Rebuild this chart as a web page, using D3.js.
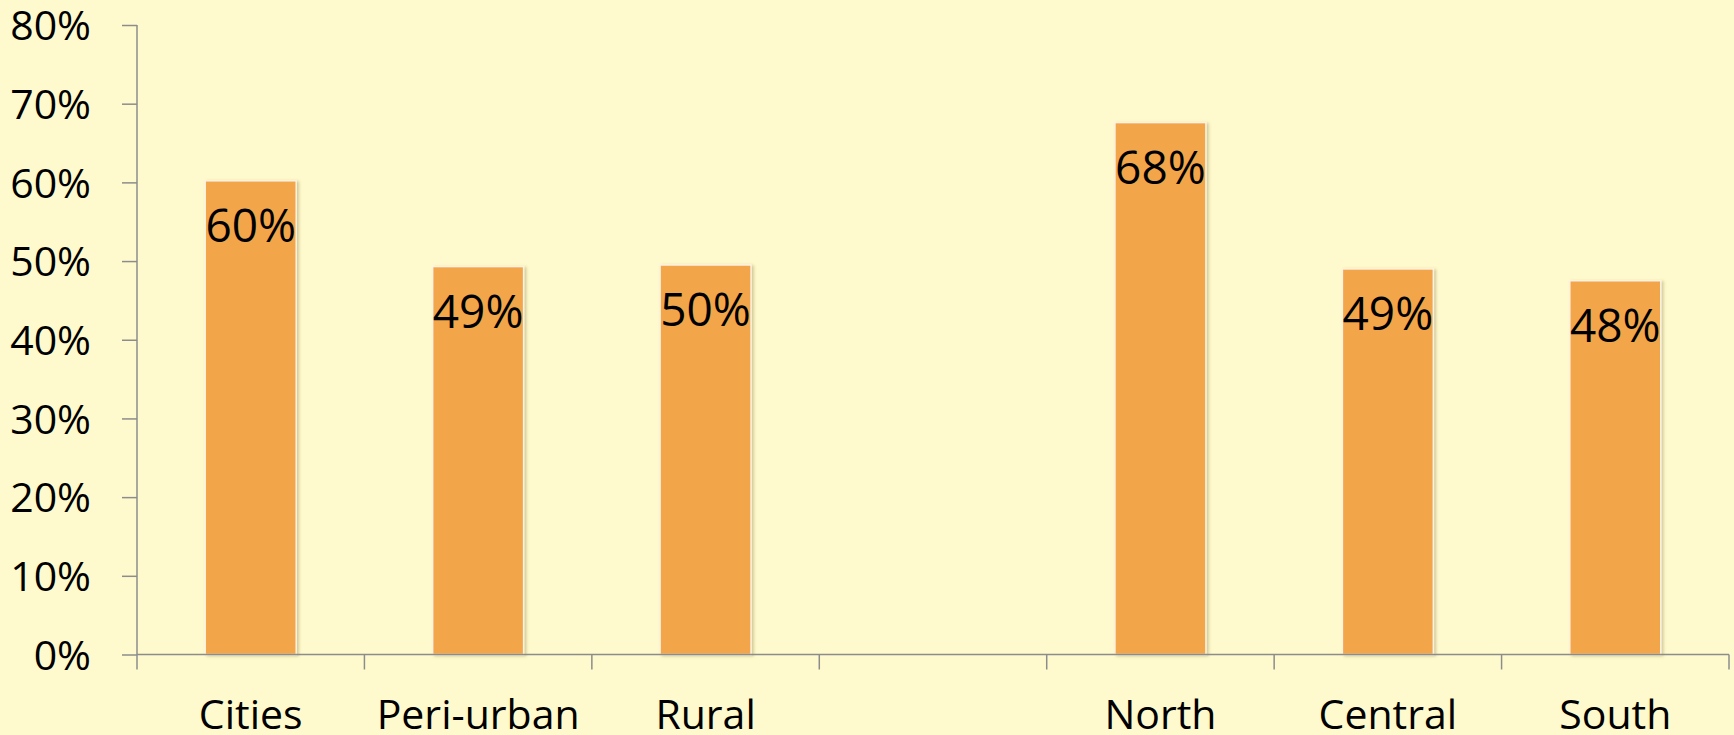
<!DOCTYPE html>
<html lang="en">
<head>
    <meta charset="UTF-8">
    <title>Bar chart</title>
    <style>
        /* page and chart background */
        html, body {
            margin: 0;
            padding: 0;
            background-color: #fffacd;
            overflow: hidden;
        }
        svg {
            display: block;
            font-family: "Open Sans", "Noto Sans", sans-serif;
        }
    </style>
</head>
<body>
    <svg id="chart" width="1734" height="735"></svg>

    <script src="https://d3js.org/d3.v7.min.js"></script>
    <script>
        // Data (the empty category is the gap between the two groups)
        const categories = ["Cities", "Peri-urban", "Rural", "", "North", "Central", "South"];
        const values = [0.602, 0.493, 0.495, null, 0.676, 0.490, 0.475];
        const valueLabels = ["60%", "49%", "50%", "", "68%", "49%", "48%"];
        const yTicks = [0, 0.1, 0.2, 0.3, 0.4, 0.5, 0.6, 0.7, 0.8];

        const svg = d3.select("#chart");

        // Plot area
        const plotLeft = 137, plotRight = 1729, plotTop = 25, plotBottom = 654.5;
        const axisColor = "#8c8c8c";

        const x = d3.scaleBand()
            .domain(categories.map((c, i) => i))
            .range([plotLeft, plotRight])
            .paddingInner(0.6)
            .paddingOuter(0.3);

        const y = d3.scaleLinear()
            .domain([0, 0.8])
            .range([plotBottom, plotTop]);

        // soft shadow on the bars
        const defs = svg.append("defs");
        const filter = defs.append("filter").attr("id", "shadow")
            .attr("x", "-10%").attr("y", "-10%").attr("width", "130%").attr("height", "130%");
        filter.append("feDropShadow")
            .attr("dx", 2).attr("dy", 1).attr("stdDeviation", 1.5)
            .attr("flood-color", "#7a6a30").attr("flood-opacity", 0.35);

        // Y axis with ticks to the left
        const yAxis = d3.axisLeft(y)
            .tickValues(yTicks)
            .tickFormat(d3.format(".0%"))
            .tickSize(15)
            .tickSizeOuter(0)
            .tickPadding(31);

        const gy = svg.append("g")
            .attr("transform", `translate(${plotLeft},0)`)
            .call(yAxis);
        gy.select(".domain").remove();
        gy.selectAll(".tick line")
            .attr("stroke", axisColor)
            .attr("stroke-width", 1.5);
        gy.selectAll(".tick text")
            .attr("font-family", "'Open Sans', sans-serif")
            .attr("font-size", 41)
            .attr("fill", "#000")
            .attr("dy", "0.36em");

        // vertical axis line, running down past the category axis
        svg.append("line")
            .attr("x1", plotLeft).attr("x2", plotLeft)
            .attr("y1", y(0.8)).attr("y2", plotBottom + 15)
            .attr("stroke", axisColor)
            .attr("stroke-width", 1.5);

        // Bars
        const barData = categories.map((c, i) => ({ i: i, value: values[i], label: valueLabels[i] }))
            .filter(d => d.value !== null);

        svg.append("g")
            .selectAll("rect")
            .data(barData)
            .enter()
            .append("rect")
            .attr("x", d => x(d.i))
            .attr("y", d => y(d.value))
            .attr("width", x.bandwidth())
            .attr("height", d => y(0) - y(d.value))
            .attr("fill", "#f2a54a")
            .attr("stroke", "#fdf3e0")
            .attr("stroke-width", 1.5)
            .attr("filter", "url(#shadow)");

        // Value labels inside the bar tops
        svg.append("g")
            .selectAll("text")
            .data(barData)
            .enter()
            .append("text")
            .attr("x", d => x(d.i) + x.bandwidth() / 2)
            .attr("y", d => y(d.value) + 61)
            .attr("text-anchor", "middle")
            .attr("font-size", 46)
            .attr("fill", "#000")
            .text(d => d.label);

        // X axis line and band boundary ticks
        svg.append("line")
            .attr("x1", plotLeft).attr("x2", plotRight)
            .attr("y1", y(0)).attr("y2", y(0))
            .attr("stroke", axisColor)
            .attr("stroke-width", 1.5);

        const step = x.step();
        const boundaries = categories.map((c, i) => x(i) - x.paddingInner() * step / 2)
            .slice(1)
            .concat([plotRight]);

        svg.append("g")
            .selectAll("line")
            .data(boundaries)
            .enter()
            .append("line")
            .attr("x1", d => d).attr("x2", d => d)
            .attr("y1", y(0)).attr("y2", y(0) + 15)
            .attr("stroke", axisColor)
            .attr("stroke-width", 1.5);

        // Category labels
        svg.append("g")
            .selectAll("text")
            .data(categories)
            .enter()
            .append("text")
            .attr("x", (d, i) => x(i) + x.bandwidth() / 2)
            .attr("y", 729)
            .attr("text-anchor", "middle")
            .attr("font-size", 41)
            .attr("fill", "#000")
            .text(d => d);
    </script>
</body>
</html>
